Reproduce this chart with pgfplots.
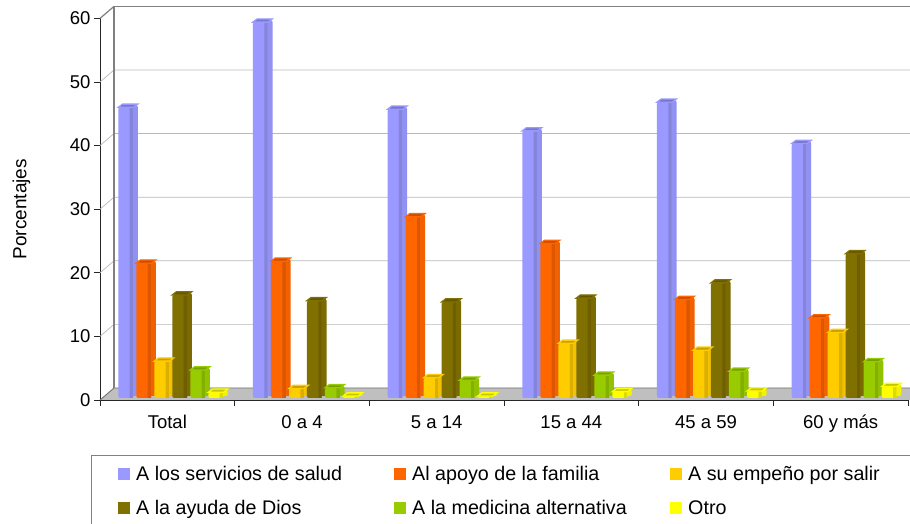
\documentclass[border=0pt]{standalone}
\usepackage{fontspec}
\setmainfont{Liberation Sans}
\usepackage{pgfplots}
\pgfplotsset{compat=1.18}
\usepackage{pgfplotstable}

\definecolor{serA}{HTML}{9999FF}
\definecolor{serB}{HTML}{FF6600}
\definecolor{serC}{HTML}{FFCC00}
\definecolor{serD}{HTML}{807000}
\definecolor{serE}{HTML}{99CC00}
\definecolor{serF}{HTML}{FFFF00}

% value tables, g = group index
\pgfplotstableread{
g v
0 45.7
1 59.1
2 45.4
3 42.0
4 46.5
5 40.0
}\tabA
\pgfplotstableread{
g v
0 21.2
1 21.5
2 28.5
3 24.3
4 15.5
5 12.6
}\tabB
\pgfplotstableread{
g v
0 5.8
1 1.5
2 3.2
3 8.6
4 7.5
5 10.3
}\tabC
\pgfplotstableread{
g v
0 16.2
1 15.3
2 15.1
3 15.7
4 18.1
5 22.7
}\tabD
\pgfplotstableread{
g v
0 4.4
1 1.6
2 2.8
3 3.6
4 4.2
5 5.7
}\tabE
\pgfplotstableread{
g v
0 0.9
1 0.3
2 0.3
3 1.0
4 1.1
5 1.8
}\tabF

% top of the fake 3d bar
\pgfdeclareplotmark{cap}{%
  \pgfpathmoveto{\pgfqpoint{-7.6pt}{0pt}}%
  \pgfpathlineto{\pgfqpoint{7.6pt}{0pt}}%
  \pgfpathlineto{\pgfqpoint{11.8pt}{3.2pt}}%
  \pgfpathlineto{\pgfqpoint{-3.4pt}{3.2pt}}%
  \pgfpathclose
  \pgfusepathqfillstroke}

\newcommand{\serie}[3]{%
  % side
  \addplot[ybar, bar shift=0pt, bar width=15.2pt, forget plot, draw=none,
    fill=#3!95!black, rounded corners=2pt, xshift=4.8pt, yshift=4pt]
    table[x expr=\thisrow{g}+#2, y=v] {#1};
  % front
  \addplot[ybar, bar shift=0pt, bar width=15.2pt, forget plot, draw=none,
    fill=#3, rounded corners=2pt, xshift=0.4pt, yshift=2pt]
    table[x expr=\thisrow{g}+#2, y=v] {#1};
  % darker strip along the right edge of the front
  \addplot[ybar, bar shift=5.5pt, bar width=3.4pt, forget plot, draw=none,
    fill=#3!86!black, xshift=0.4pt, yshift=2pt]
    table[x expr=\thisrow{g}+#2, y=v] {#1};
  % top
  \addplot[only marks, forget plot, mark=cap, xshift=0.4pt, yshift=2pt,
    mark options={draw=#3, fill=#3!78!black, line width=1.3pt, solid}]
    table[x expr=\thisrow{g}+#2, y=v] {#1};
}
\newcommand{\ent}[1]{\rule[-4pt]{0pt}{18pt}\hspace{4pt}#1}

\begin{document}
\begin{tikzpicture}
\path[use as bounding box] (-100pt,-124pt) rectangle (810pt,400pt);
\begin{axis}[
    at={(0,0)}, anchor=south west,
    x=134.67pt, y=6.36pt,
    xmin=0, xmax=6, ymin=0, ymax=60,
    clip=false,
    axis x line=bottom, axis y line=left,
    axis line style={-, black!85, line width=0.9pt},
    xtick={0,1,2,3,4,5,6},
    xticklabels={Total,0 a 4,5 a 14,15 a 44,45 a 59,60 y más},
    x tick label as interval,
    ytick={0,10,20,30,40,50,60},
    tick align=outside,
    major tick length=6pt,
    tick style={black!85, line width=0.9pt},
    /pgf/number format/assume math mode=true,
    tick label style={font=\fontsize{18.5}{22}\selectfont},
    xticklabel style={text height=14pt, text depth=4pt, yshift=-4.6pt},
    ylabel={Porcentajes},
    every axis y label/.style={at={(axis description cs:-0.0973,0.5)}, rotate=90, anchor=center,
      font=\fontsize{19}{22}\selectfont},
    legend columns=3,
    legend cell align=left,
    legend style={at={(axis description cs:-0.0099,-0.1467)}, anchor=north west,
      draw=none, fill=none, inner xsep=26pt, inner ysep=8pt,
      row sep=14pt,
      font=\fontsize{19.7}{22}\selectfont},
    legend image code/.code={\fill[#1, draw=none] (0pt,-6pt) rectangle (12pt,6pt);},
]
% floor
\addplot[fill=gray!50, draw=none, forget plot] coordinates {(0,0) (0.104,1.887) (6.015,1.887) (6.015,0)} -- cycle;
\addplot[gray!90!black, line width=0.9pt, forget plot] coordinates {(0,0) (0.104,1.887) (6.015,1.887)};
% grid on the back wall
\addplot[gray!55, line width=0.7pt, forget plot] coordinates {(0,10) (0.104,11.887) (6.015,11.887)};
\addplot[gray!55, line width=0.7pt, forget plot] coordinates {(0,20) (0.104,21.887) (6.015,21.887)};
\addplot[gray!55, line width=0.7pt, forget plot] coordinates {(0,30) (0.104,31.887) (6.015,31.887)};
\addplot[gray!55, line width=0.7pt, forget plot] coordinates {(0,40) (0.104,41.887) (6.015,41.887)};
\addplot[gray!55, line width=0.7pt, forget plot] coordinates {(0,50) (0.104,51.887) (6.015,51.887)};
% walls
\addplot[gray, line width=1.6pt, forget plot] coordinates {(0.104,1.887) (0.104,61.887) (6.015,61.887)};
\addplot[gray, line width=1.2pt, forget plot] coordinates {(0,60) (0.104,61.887)};
% legend frame, open at the bottom and right like the original crop
\addplot[gray, line width=1pt, forget plot] coordinates {(-0.0594,-20) (-0.0594,-8.805) (6.015,-8.805)};

\serie{\tabA}{0.189}{serA}
\serie{\tabB}{0.323}{serB}
\serie{\tabC}{0.457}{serC}
\serie{\tabD}{0.590}{serD}
\serie{\tabE}{0.724}{serE}
\serie{\tabF}{0.858}{serF}

\addlegendimage{fill=serA, draw=none}
\addlegendentry{\makebox[260pt][l]{\ent{A los servicios de salud}}}
\addlegendimage{fill=serB, draw=none}
\addlegendentry{\makebox[260pt][l]{\ent{Al apoyo de la familia}}}
\addlegendimage{fill=serC, draw=none}
\addlegendentry{\makebox[206pt][l]{\ent{A su empeño por salir}}}
\addlegendimage{fill=serD, draw=none}
\addlegendentry{\makebox[260pt][l]{\ent{A la ayuda de Dios}}}
\addlegendimage{fill=serE, draw=none}
\addlegendentry{\makebox[260pt][l]{\ent{A la medicina alternativa}}}
\addlegendimage{fill=serF, draw=none}
\addlegendentry{\makebox[206pt][l]{\ent{Otro}}}
\end{axis}
\end{tikzpicture}
\end{document}
